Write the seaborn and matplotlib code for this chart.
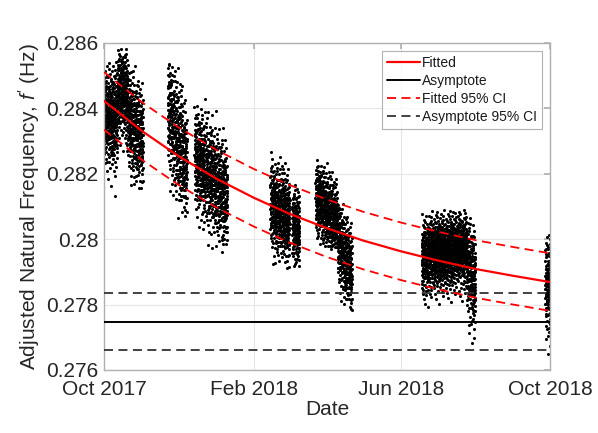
import numpy as np
import pandas as pd
import matplotlib
matplotlib.use("Agg")
import matplotlib.pyplot as plt
import seaborn as sns
from statistics import NormalDist

# ---- measurement campaigns (one row per block of continuous monitoring) ----
campaign_start = ["2017-10-01", "2017-10-12", "2017-10-20", "2017-11-22", "2017-12-14",
                  "2018-02-14", "2018-03-04", "2018-03-23", "2018-04-10",
                  "2018-06-18", "2018-06-27", "2018-07-07", "2018-07-17", "2018-07-25",
                  "2018-09-27"]
campaign_end = ["2017-10-12", "2017-10-20", "2017-11-02", "2017-12-08", "2018-01-10",
                "2018-03-02", "2018-03-10", "2018-04-10", "2018-04-22",
                "2018-06-27", "2018-07-07", "2018-07-17", "2018-07-25", "2018-08-01",
                "2018-10-02"]
mean_at_start = [0.2838, 0.2846, 0.2838, 0.2840, 0.2826,
                 0.2811, 0.2805, 0.2813, 0.2801,
                 0.2794, 0.2796, 0.2796, 0.2797, 0.2792,
                 0.2787]
mean_at_end = [0.2837, 0.2845, 0.2830, 0.2822, 0.2812,
               0.2806, 0.2803, 0.2805, 0.2789,
               0.2796, 0.2796, 0.2797, 0.2797, 0.2787,
               0.2785]
spread = [0.0008, 0.0007, 0.0008, 0.0009, 0.0008,
          0.0007, 0.0006, 0.0006, 0.0007,
          0.0006, 0.0006, 0.0006, 0.0006, 0.0008,
          0.0008]
lowest = [0.2813, 0.2826, 0.2814, 0.2806, 0.2796,
          0.2791, 0.2791, 0.2797, 0.2778,
          0.2778, 0.2777, 0.2778, 0.2778, 0.2764,
          0.2764]
highest = [0.2855, 0.2859, 0.2855, 0.2854, 0.2843,
           0.2827, 0.2817, 0.2825, 0.2811,
           0.2809, 0.2809, 0.2809, 0.2809, 0.2808,
           0.2803]
readings_per_day = 24

# ---- exponential fit, its confidence band and the asymptote ----
fit_dates = ["2017-10-01", "2017-11-01", "2017-12-01", "2018-01-01", "2018-02-01",
             "2018-03-01", "2018-04-01", "2018-05-01", "2018-06-01", "2018-07-01",
             "2018-08-01", "2018-09-01", "2018-10-01"]
fitted = [0.28423, 0.28331, 0.28254, 0.28185, 0.28126, 0.28079, 0.28034,
          0.27996, 0.27963, 0.27935, 0.27909, 0.27888, 0.27869]
fitted_upper = [0.28511, 0.28419, 0.28342, 0.28273, 0.28214, 0.28167, 0.28122,
                0.28084, 0.28051, 0.28023, 0.27997, 0.27976, 0.27957]
fitted_lower = [0.28335, 0.28243, 0.28166, 0.28097, 0.28038, 0.27991, 0.27946,
                0.27908, 0.27875, 0.27847, 0.27821, 0.27800, 0.27781]
asymptote = 0.27748
asymptote_upper = 0.27834
asymptote_lower = 0.27660

x_ticks = ["2017-10-01", "2018-02-01", "2018-06-01", "2018-10-01"]
x_tick_labels = ["Oct 2017", "Feb 2018", "Jun 2018", "Oct 2018"]
y_ticks = [0.276, 0.278, 0.280, 0.282, 0.284, 0.286]
y_tick_labels = ["0.276", "0.278", "0.28", "0.282", "0.284", "0.286"]


def halton(k, base):
    """Radical inverse of k in the given base."""
    f, r = 1.0, 0.0
    while k > 0:
        f /= base
        r += f * (k % base)
        k //= base
    return r


# ---- spread each campaign's readings over its window (Halton 2-3 sequence) ----
nd = NormalDist()
rows = []
for s, e, m0, m1, sd, lo, hi in zip(campaign_start, campaign_end, mean_at_start,
                                    mean_at_end, spread, lowest, highest):
    t0, t1 = pd.Timestamp(s), pd.Timestamp(e)
    days = (t1 - t0).days
    n = days * readings_per_day
    for k in range(1, n + 1):
        u = halton(k, 2)
        w = min(max(halton(k, 3), 1e-4), 1 - 1e-4)
        val = m0 + (m1 - m0) * u + sd * nd.inv_cdf(w)
        if lo <= val <= hi:
            rows.append((t0 + pd.Timedelta(days=u * days), val))
obs = pd.DataFrame(rows, columns=["date", "freq"])

fit = pd.DataFrame({"date": pd.to_datetime(fit_dates), "fitted": fitted,
                    "upper": fitted_upper, "lower": fitted_lower})
span = pd.to_datetime(["2017-10-01", "2018-10-01"])

# ---- figure ----
sns.set_theme(style="white")
plt.rcParams["font.family"] = ["Liberation Sans", "DejaVu Sans"]
plt.rcParams["mathtext.fontset"] = "custom"
plt.rcParams["mathtext.it"] = "Liberation Sans:italic"
plt.rcParams["mathtext.rm"] = "Liberation Sans"

fig = plt.figure(figsize=(5.98, 4.33), dpi=100)
ax = fig.add_axes([0.1739, 0.1455, 0.7458, 0.7552])

sns.scatterplot(data=obs, x="date", y="freq", ax=ax, color="black", s=5,
                linewidth=0, legend=False, zorder=2)

red = "#ff0000"
dash = (5, 3)
sns.lineplot(data=fit, x="date", y="fitted", ax=ax, color=red, lw=1.6,
             label="Fitted", zorder=4)
sns.lineplot(x=span, y=[asymptote] * 2, ax=ax, color="black", lw=1.4,
             label="Asymptote", zorder=3)
ax.plot(fit["date"], fit["upper"], color=red, lw=1.3, dashes=dash,
        label="Fitted 95% CI", zorder=4)
ax.plot(fit["date"], fit["lower"], color=red, lw=1.3, dashes=dash, zorder=4)
ax.plot(span, [asymptote_upper] * 2, color="#333333", lw=1.3, dashes=dash,
        label="Asymptote 95% CI", zorder=3)
ax.plot(span, [asymptote_lower] * 2, color="#333333", lw=1.3, dashes=dash, zorder=3)

ax.set_xlim(span[0], span[1])
ax.set_ylim(0.276, 0.286)
ax.set_xticks(pd.to_datetime(x_ticks))
ax.set_xticklabels(x_tick_labels)
ax.set_yticks(y_ticks)
ax.set_yticklabels(y_tick_labels)

ax.grid(True, color="#e6e6e6", lw=0.8)
ax.set_axisbelow(True)
for sp in ax.spines.values():
    sp.set_color("#b0b0b0")
    sp.set_linewidth(1.0)
ax.tick_params(direction="in", length=4, color="#b0b0b0", labelsize=15,
               labelcolor="#262626", top=True, right=True)
ax.tick_params(axis="x", pad=7)
ax.tick_params(axis="y", pad=4)

ax.set_xlabel("Date", fontsize=15, color="#262626", labelpad=1)
ax.set_ylabel(r"Adjusted Natural Frequency, $f'$ (Hz)", fontsize=15,
              color="#262626", labelpad=3)

leg = ax.legend(loc="upper right", fontsize=10, frameon=True, fancybox=False,
                edgecolor="#a0a0a0", handlelength=2.4, handletextpad=0.15,
                labelspacing=0.3, borderpad=0.32, borderaxespad=0.6)
leg.get_frame().set_linewidth(0.8)
for t in leg.get_texts():
    t.set_color("#1a1a1a")

fig.savefig("out.png", dpi=100)
